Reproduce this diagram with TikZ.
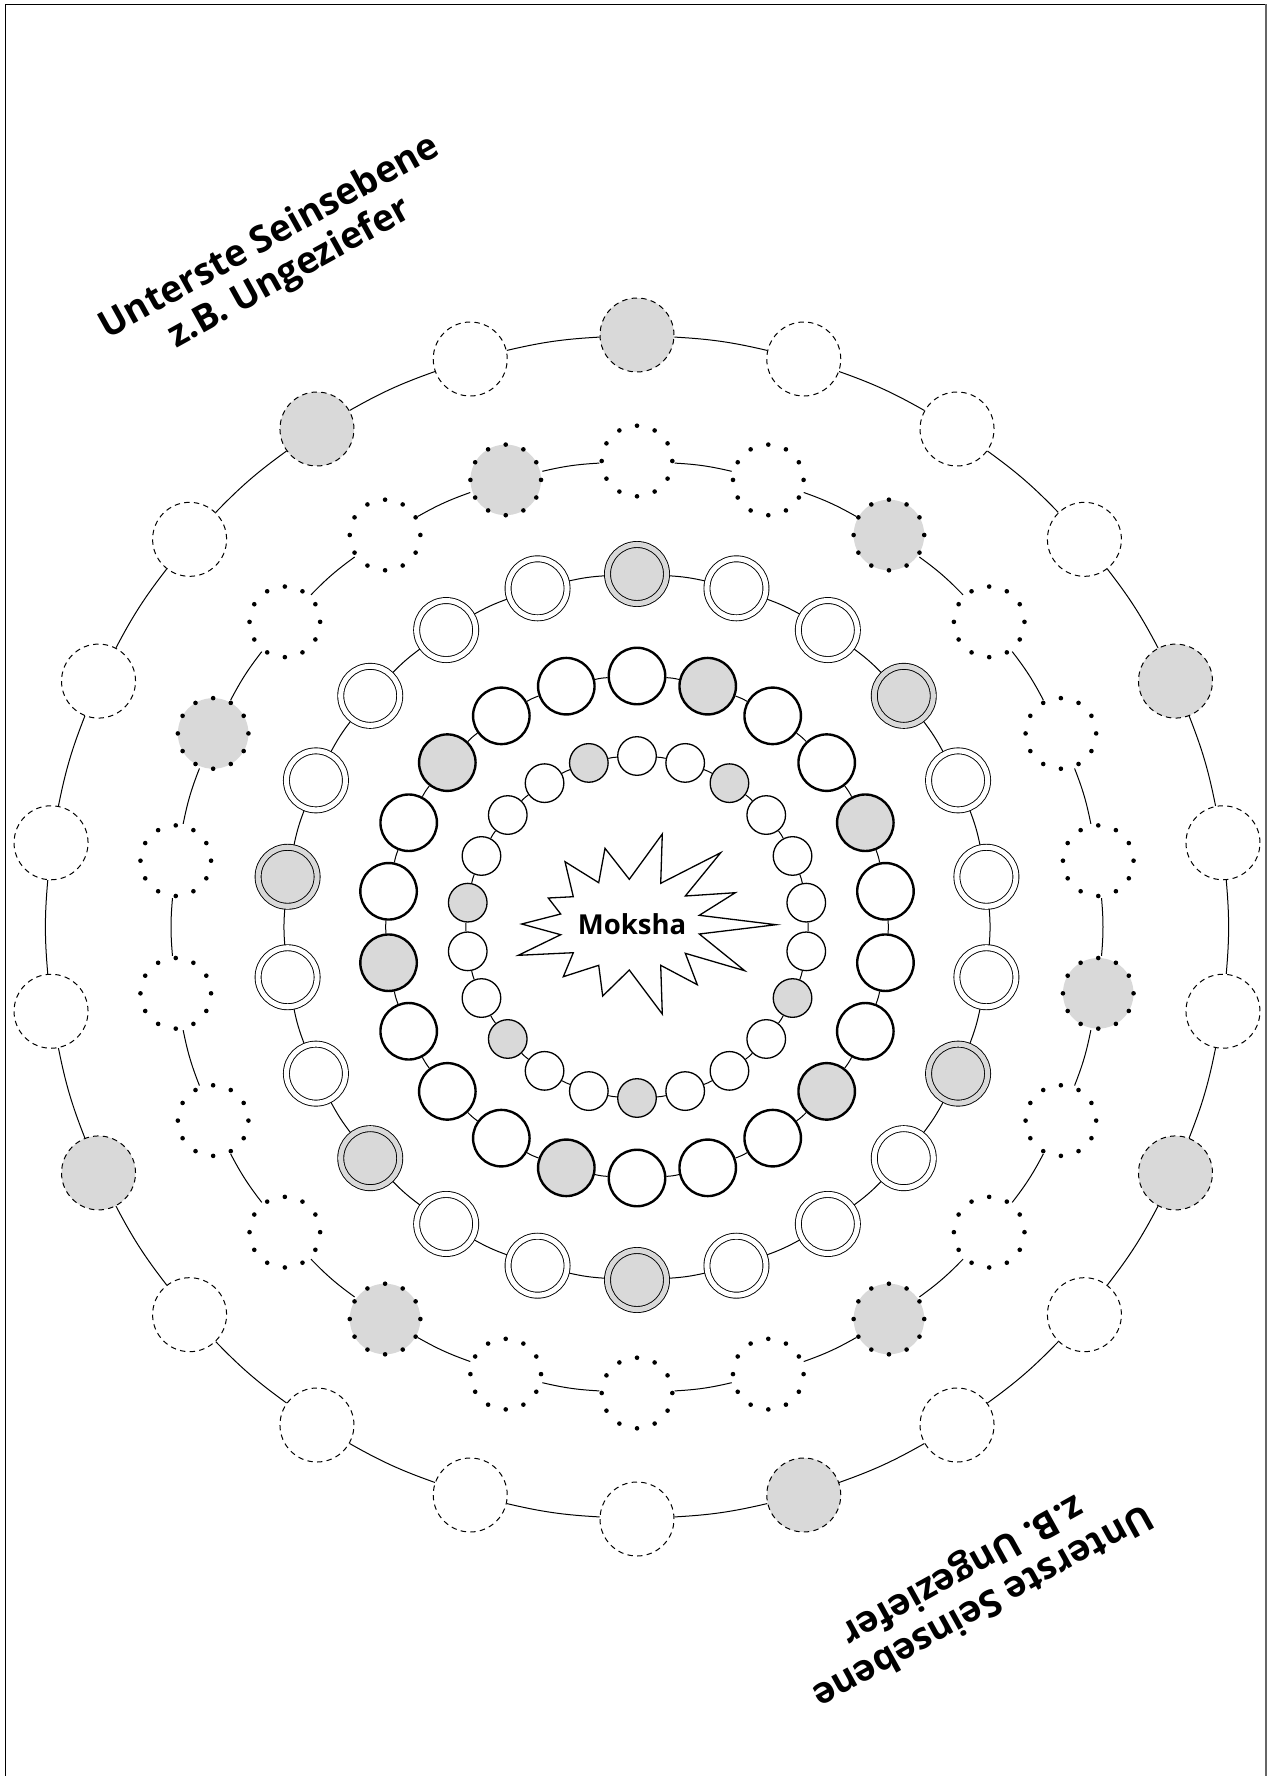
\documentclass[tikz,border=0pt]{standalone}
\usepackage{fontspec}
\setmainfont{Open Sans}
\usetikzlibrary{backgrounds}
\definecolor{greyc}{RGB}{217,217,217}
\makeatletter
\newcommand\chkgrey[2]{\edef\tmp@a{\noexpand\in@{,#2,}{,#1,}}\tmp@a\ifin@\def\cfill{greyc}\else\def\cfill{white}\fi}
\makeatother
\begin{document}
\begin{tikzpicture}[x=1pt,y=-1pt,
  conn/.style={line width=1pt},
  ringA/.style={circle,draw,line width=1.3pt,minimum size=38.6pt,inner sep=0pt},
  ringB/.style={circle,draw,line width=2.4pt,minimum size=56.5pt,inner sep=0pt},
  ringC/.style={circle,draw,line width=0.9pt,double distance=5.1pt,minimum size=59pt,inner sep=0pt},
  ringD/.style={circle,draw,line width=4.6pt,line cap=round,dash pattern=on 0pt off 18.48pt,minimum size=70.6pt,inner sep=0pt},
  ringE/.style={circle,draw,line width=1pt,dash pattern=on 5.4pt off 4.287pt,minimum size=74pt,inner sep=0pt},
  leveltext/.style={font=\bfseries\fontsize{37}{41}\selectfont,align=center,inner sep=0pt},
  starline/.style={draw,line width=1.3pt,fill=white,line join=miter},
]
\useasboundingbox (0,0) rectangle (1268,1776);
\coordinate (ctr) at (637,927);
% frame
\draw[line width=1.5pt] (5.3,1776) -- (5.3,4.5) -- (1266.3,4.5);
\draw[line width=2pt,black!60] (1266.3,4.5) -- (1266.3,1776);
% ring 1
\foreach \k in {0,...,21}{
  \pgfmathsetmacro\ang{-90+\k*360/22}
  \chkgrey{2,7,11,14,17,21}{\k}
  \node[ringA,fill=\cfill] (a\k) at ({637+171*cos(\ang)},{927+171*sin(\ang)}) {};
}
% ring 2
\foreach \k in {0,...,21}{
  \pgfmathsetmacro\ang{-90+\k*360/22}
  \chkgrey{1,4,8,12,16,19}{\k}
  \node[ringB,fill=\cfill] (b\k) at ({637+251*cos(\ang)},{927+251*sin(\ang)}) {};
}
% ring 3
\foreach \k in {0,...,21}{
  \pgfmathsetmacro\ang{-90+\k*360/22}
  \chkgrey{0,3,7,11,14,17}{\k}
  \node[ringC,fill=\cfill,double=\cfill] (c\k) at ({637+353*cos(\ang)},{927+353*sin(\ang)}) {};
}
% ring 4
\foreach \k in {0,...,21}{
  \pgfmathsetmacro\ang{-90+\k*360/22}
  \chkgrey{2,6,9,13,18,21}{\k}
  \node[ringD,fill=\cfill] (d\k) at ({637+466*cos(\ang)},{927+466*sin(\ang)}) {};
}
% ring 5
\foreach \k in {0,...,21}{
  \pgfmathsetmacro\ang{-90+\k*360/22}
  \chkgrey{0,4,7,10,15,20}{\k}
  \node[ringE,fill=\cfill] (e\k) at ({637+592*cos(\ang)},{927+592*sin(\ang)}) {};
}
% connectors
\begin{pgfonlayer}{background}
\foreach \r in {a,b,c,d,e}{
  \foreach \k in {0,...,21}{
    \pgfmathtruncatemacro\n{mod(\k+1,22)}
    \draw[conn] (\r\k) to[bend left=5] (\r\n);
  }
}
\end{pgfonlayer}
% starburst
\path[starline] (662.3,834) -- (660.7,883.3) -- (720.7,852.7) -- (685.3,896) -- (735.3,892.7)
  -- (699.3,915.3) -- (776,924.7) -- (699.3,934) -- (744.7,970.7) -- (685.3,953.3)
  -- (697.3,984.7) -- (660.7,965.3) -- (662.3,1014) -- (629.3,970) -- (602.7,996)
  -- (598.7,965.3) -- (563.3,976.7) -- (573.3,952.7) -- (518.3,955.3) -- (560.7,934.7)
  -- (521.7,924) -- (560.7,914) -- (548.3,898) -- (573.3,896.7) -- (565,861.7)
  -- (598.7,882.7) -- (605,848.3) -- (629.3,879.3) -- cycle;
\node[font=\bfseries\fontsize{27.5}{32}\selectfont,inner sep=0pt] (moksha) at (632,924) {Moksha};
% level texts
\node[leveltext,rotate=29] (tl) at (280,256) {Unterste Seinsebene\\z.B. Ungeziefer};
\node[leveltext,rotate=209] (br) at (972,1587) {Unterste Seinsebene\\z.B. Ungeziefer};
\end{tikzpicture}
\end{document}
